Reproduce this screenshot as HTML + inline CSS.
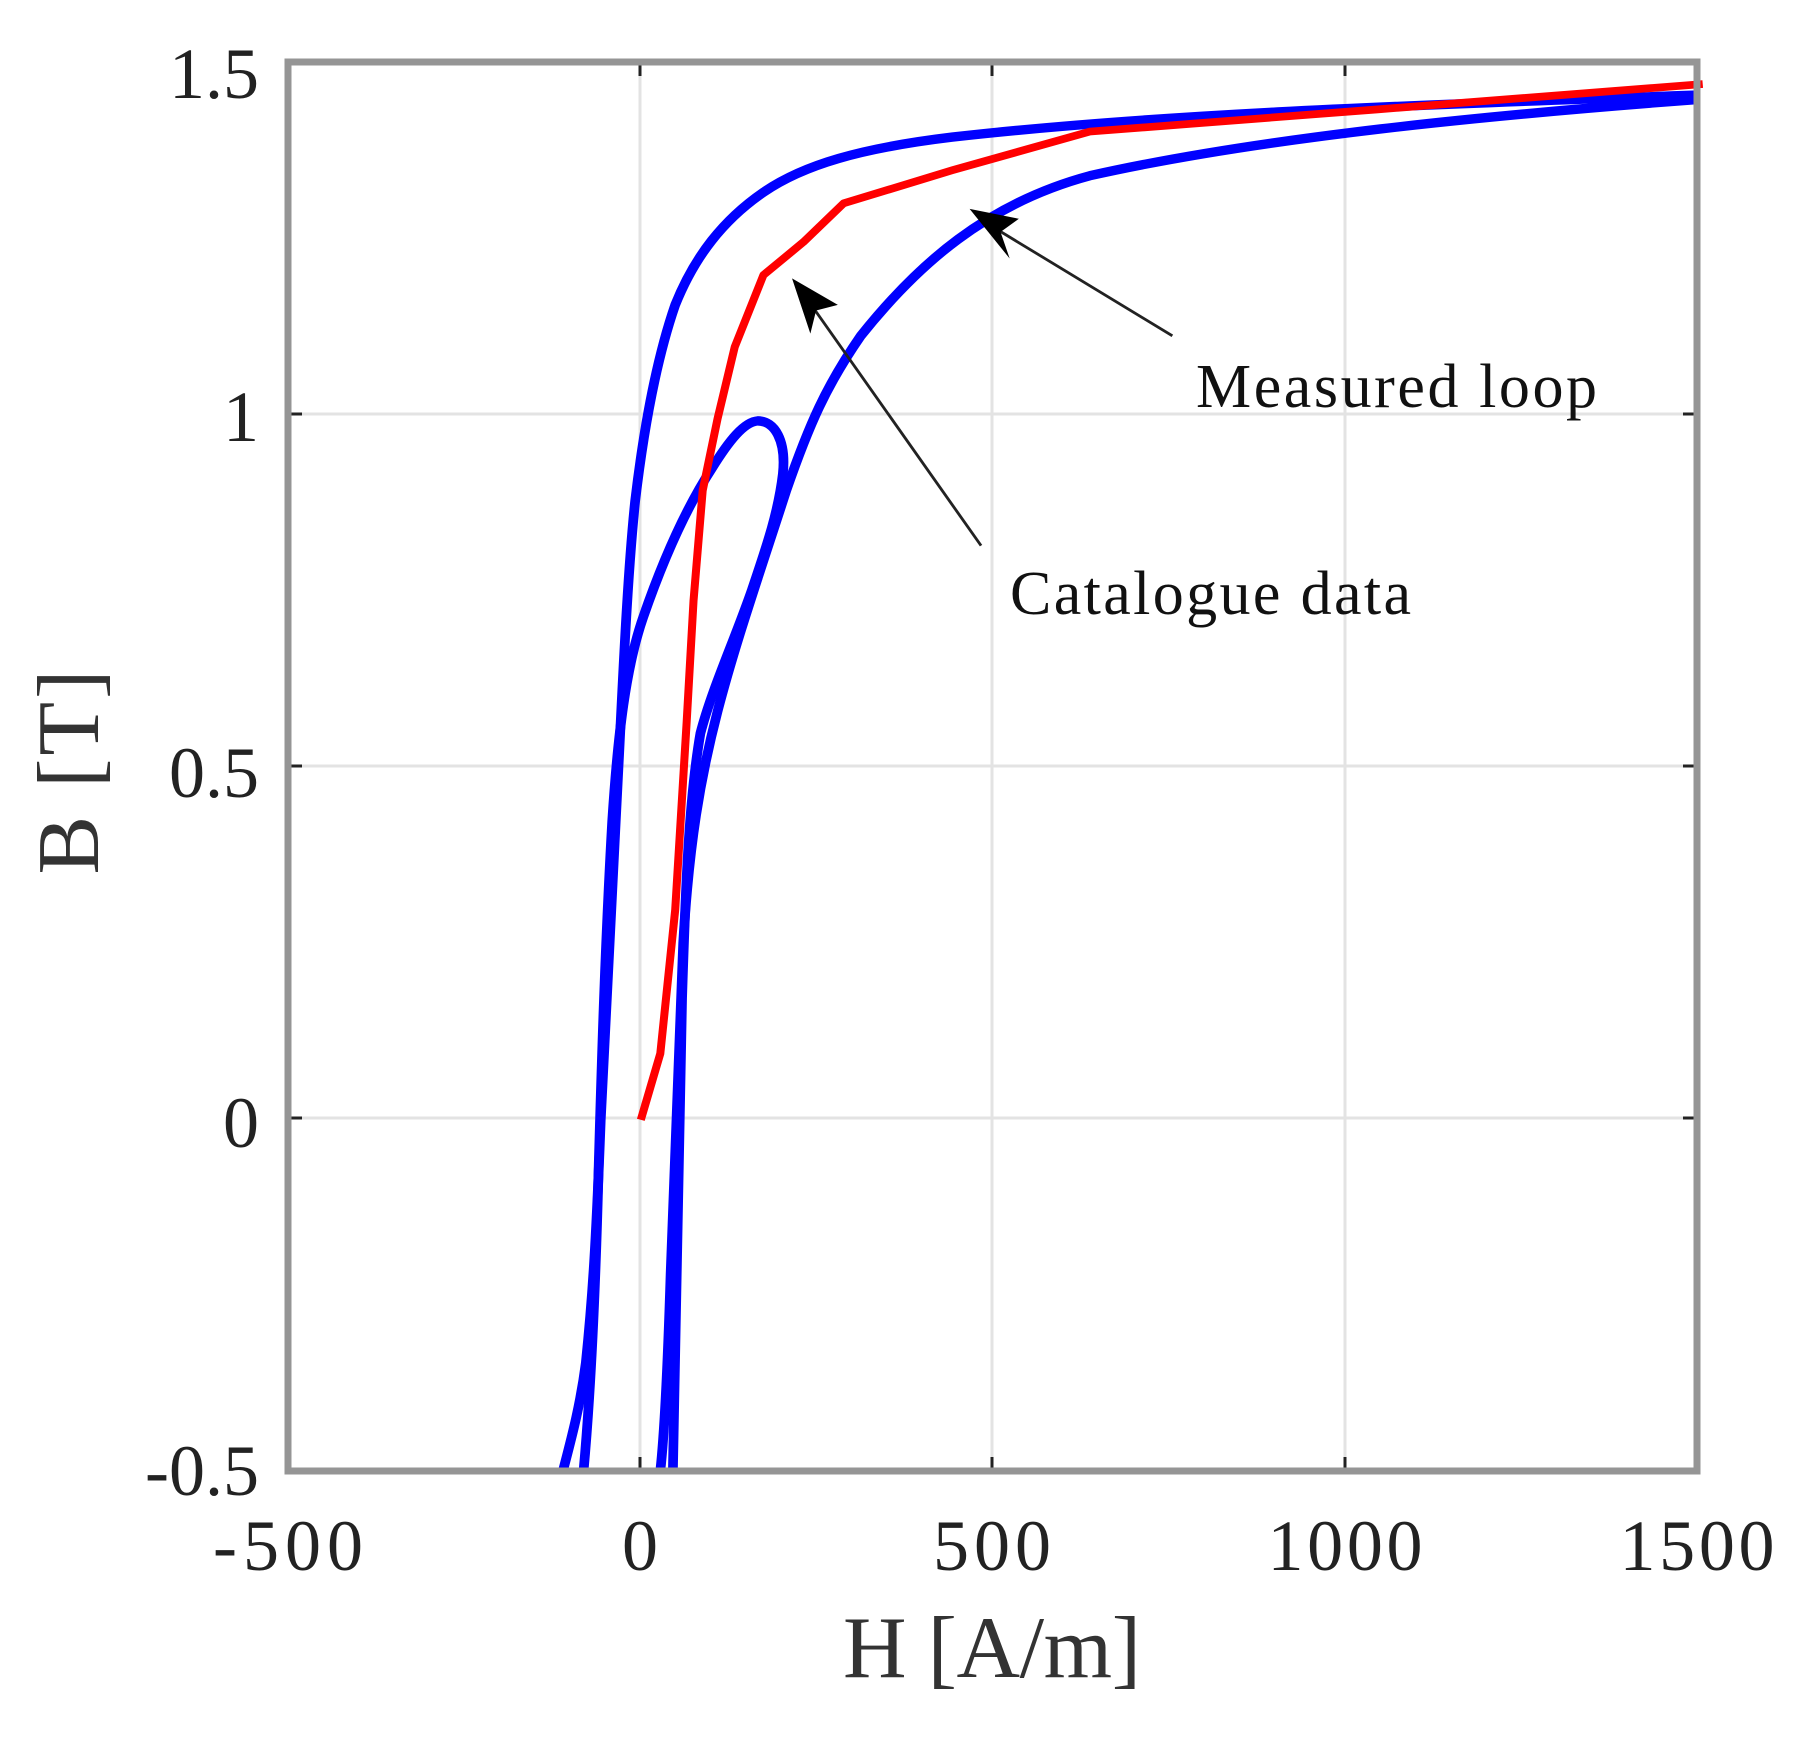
<!DOCTYPE html>
<html><head><meta charset="utf-8"><style>html,body{margin:0;padding:0;background:#fff}svg{display:block}</style></head>
<body>
<svg width="1799" height="1737" viewBox="0 0 1799 1737" xmlns="http://www.w3.org/2000/svg" font-family="Liberation Serif, serif">
<g stroke="#e3e3e3" stroke-width="3">
<line x1="640" y1="62" x2="640" y2="1471"/><line x1="992" y1="62" x2="992" y2="1471"/><line x1="1345" y1="62" x2="1345" y2="1471"/>
<line x1="288" y1="414" x2="1697" y2="414"/><line x1="288" y1="766" x2="1697" y2="766"/><line x1="288" y1="1118" x2="1697" y2="1118"/>
</g>
<g stroke="#222" stroke-width="3">
<line x1="640" y1="1471" x2="640" y2="1457"/><line x1="992" y1="1471" x2="992" y2="1457"/><line x1="1345" y1="1471" x2="1345" y2="1457"/>
<line x1="640" y1="62" x2="640" y2="76"/><line x1="992" y1="62" x2="992" y2="76"/><line x1="1345" y1="62" x2="1345" y2="76"/>
<line x1="288" y1="414" x2="302" y2="414"/><line x1="288" y1="766" x2="302" y2="766"/><line x1="288" y1="1118" x2="302" y2="1118"/>
<line x1="1697" y1="414" x2="1683" y2="414"/><line x1="1697" y1="766" x2="1683" y2="766"/><line x1="1697" y1="1118" x2="1683" y2="1118"/>
</g>
<g transform="matrix(1.14553 0 0 1.10423 1.62 4.58)" fill="none" stroke-linejoin="round">
<g stroke="#0000ff" stroke-width="8.5">
<path d="M1480,82 C1200,92 1000,100 830,120 C750,130 700,145 665,170 C630,195 605,228 588,272 C572,320 561,380 553,450 C546,520 542,620 538,700 C533,800 528,900 523,1010 C519,1120 516,1170 510,1230 C505,1270 497,1300 490,1328"/>
<path d="M1480,86 C1300,100 1100,120 950,155 C860,180 800,235 750,300 C720,345 705,380 685,440 C660,520 640,580 625,640 C610,700 600,760 595,850 C591,950 588,1050 584,1150 C581,1250 578,1300 575,1328"/>
<path d="M508,1328 C514,1260 518,1180 521,1060 C524,950 527,850 533,740 C538,660 545,600 560,555 C575,510 595,460 620,420 C635,395 648,378 660,377 C675,377 685,395 682,425 C678,460 668,490 655,530 C640,575 620,620 610,660 C600,720 597,800 594,900 C591,1050 589,1200 586,1328"/>
</g>
<path stroke="#ff0000" stroke-width="7" d="M558,1010 L575,950 L588,820 L598,650 L604,540 L612,440 L625,375 L640,310 L665,245 L700,215 L735,180 L830,150 L950,115 L1200,95 L1485,72"/>
<g stroke="#222" stroke-width="2.5"><line x1="1022" y1="300" x2="860" y2="198"/><line x1="855" y1="490" x2="700" y2="262"/></g>
<g fill="#000"><path d="M845,185 L888,194 L872,206 L880,230 Z"/><path d="M690,248 L730,272 L711,277 L706,298 Z"/></g>
</g>
<rect x="288" y="62" width="1409" height="1409" fill="none" stroke="#959595" stroke-width="7"/>
<g font-size="72" fill="#222">
<text x="288" y="1570" text-anchor="middle" textLength="150">-500</text>
<text x="640" y="1570" text-anchor="middle">0</text>
<text x="992" y="1570" text-anchor="middle" textLength="118">500</text>
<text x="1345" y="1570" text-anchor="middle" textLength="155">1000</text>
<text x="1697" y="1570" text-anchor="middle" textLength="155">1500</text>
<g text-anchor="end">
<text x="259" y="98">1.5</text>
<text x="259" y="441">1</text>
<text x="259" y="797">0.5</text>
<text x="259" y="1147">0</text>
<text x="259" y="1495">-0.5</text>
</g>
</g>
<text x="992" y="1677" font-size="88" fill="#333" text-anchor="middle" textLength="298">H [A/m]</text>
<text transform="translate(98,772) rotate(-90)" font-size="88" fill="#333" text-anchor="middle" textLength="205">B [T]</text>
<text x="1196" y="407" font-size="62" fill="#111" textLength="401">Measured loop</text>
<text x="1010" y="614" font-size="62" fill="#111" textLength="401">Catalogue data</text>
</svg>
</body></html>
